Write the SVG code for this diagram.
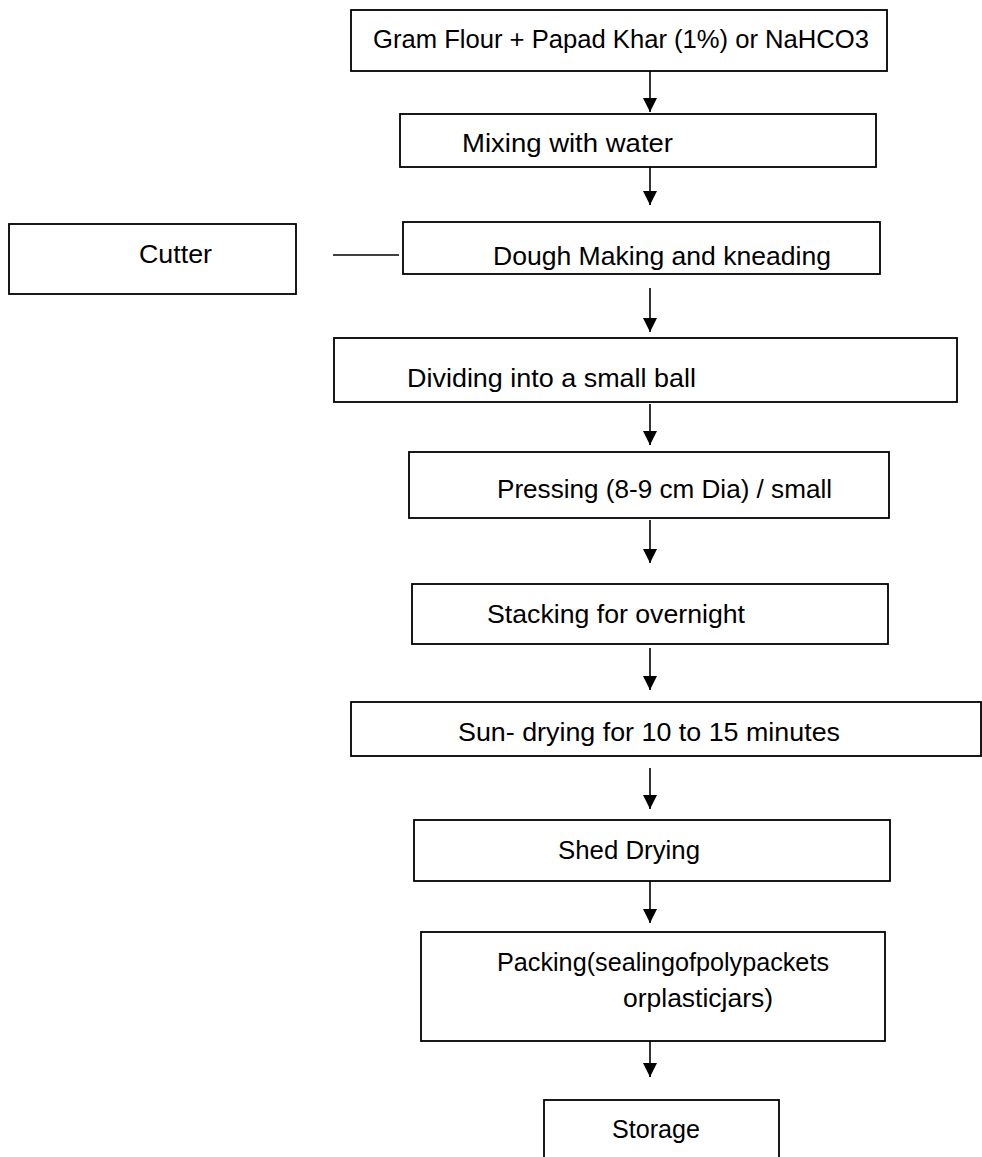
<svg xmlns="http://www.w3.org/2000/svg" width="982" height="1157" viewBox="0 0 982 1157">
<defs>
<marker id="ah" markerUnits="userSpaceOnUse" markerWidth="14" markerHeight="14" refX="14" refY="7" orient="auto">
<path d="M0,0 L14,7 L0,14 z" fill="#000"/>
</marker>
<style>
.box{fill:#fff;stroke:#000;stroke-width:1.8}
.t{font-family:"Liberation Sans",Arial,sans-serif;font-size:26px;fill:#000}
.c{stroke:#000;stroke-width:1.6;fill:none}
</style>
</defs>
<rect width="982" height="1157" fill="#fff"/>
<g id="connectors">
<line class="c" x1="650" y1="71" x2="650" y2="112" marker-end="url(#ah)"/>
<line class="c" x1="650" y1="163" x2="650" y2="205" marker-end="url(#ah)"/>
<line class="c" x1="650" y1="288" x2="650" y2="332" marker-end="url(#ah)"/>
<line class="c" x1="650" y1="404" x2="650" y2="445" marker-end="url(#ah)"/>
<line class="c" x1="650" y1="520" x2="650" y2="563" marker-end="url(#ah)"/>
<line class="c" x1="650" y1="648" x2="650" y2="690" marker-end="url(#ah)"/>
<line class="c" x1="650" y1="768" x2="650" y2="809" marker-end="url(#ah)"/>
<line class="c" x1="650" y1="881" x2="650" y2="923" marker-end="url(#ah)"/>
<line class="c" x1="650" y1="1034" x2="650" y2="1077" marker-end="url(#ah)"/>
<line class="c" x1="333" y1="255" x2="399" y2="255"/>
</g>
<g id="n1"><rect class="box" x="351" y="10" width="536" height="61"/><text class="t" x="373" y="48" textLength="496" lengthAdjust="spacingAndGlyphs">Gram Flour + Papad Khar (1%) or NaHCO3</text></g>
<g id="n2"><rect class="box" x="400" y="114" width="476" height="53"/><text class="t" x="462" y="152" textLength="211" lengthAdjust="spacingAndGlyphs">Mixing with water</text></g>
<g id="n3"><rect class="box" x="403" y="222" width="477" height="52"/><text class="t" x="493" y="265" textLength="338" lengthAdjust="spacingAndGlyphs">Dough Making and kneading</text></g>
<g id="cutter"><rect class="box" x="9" y="224" width="287" height="70"/><text class="t" x="139" y="263" textLength="73" lengthAdjust="spacingAndGlyphs">Cutter</text></g>
<g id="n4"><rect class="box" x="334" y="338" width="623" height="64"/><text class="t" x="407" y="387" textLength="289" lengthAdjust="spacingAndGlyphs">Dividing into a small ball</text></g>
<g id="n5"><rect class="box" x="409" y="452" width="480" height="66"/><text class="t" x="497" y="498" textLength="335" lengthAdjust="spacingAndGlyphs">Pressing (8-9 cm Dia) / small</text></g>
<g id="n6"><rect class="box" x="412" y="584" width="476" height="60"/><text class="t" x="487" y="623" textLength="258" lengthAdjust="spacingAndGlyphs">Stacking for overnight</text></g>
<g id="n7"><rect class="box" x="351" y="702" width="630" height="54"/><text class="t" x="458" y="741" textLength="382" lengthAdjust="spacingAndGlyphs">Sun- drying for 10 to 15 minutes</text></g>
<g id="n8"><rect class="box" x="414" y="820" width="476" height="61"/><text class="t" x="558" y="859" textLength="142" lengthAdjust="spacingAndGlyphs">Shed Drying</text></g>
<g id="n9"><rect class="box" x="421" y="932" width="464" height="109"/><text class="t" x="497" y="971" textLength="332" lengthAdjust="spacingAndGlyphs">Packing(sealingofpolypackets</text><text class="t" x="623" y="1007" textLength="150" lengthAdjust="spacingAndGlyphs">orplasticjars)</text></g>
<g id="n10"><rect class="box" x="544" y="1100" width="235" height="70"/><text class="t" x="612" y="1138" textLength="88" lengthAdjust="spacingAndGlyphs">Storage</text></g>
</svg>
